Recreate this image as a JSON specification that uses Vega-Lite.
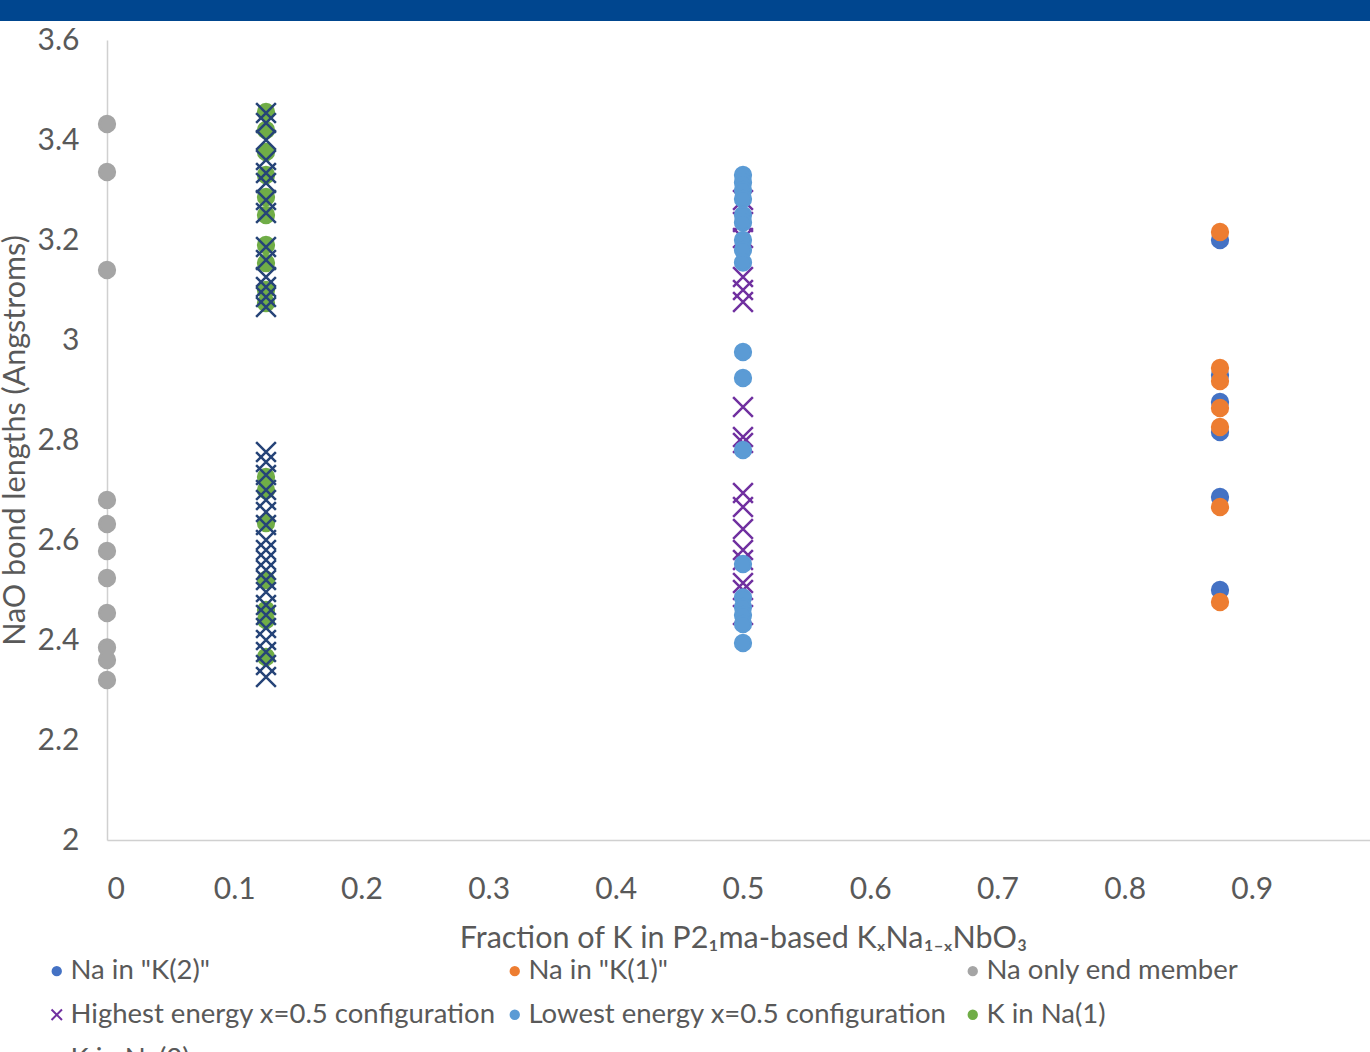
{
  "$schema": "https://vega.github.io/schema/vega-lite/v6.json",
  "width": 1272,
  "height": 800,
  "autosize": {"type": "none"},
  "padding": {"left": 107, "top": 40, "right": 0, "bottom": 212},
  "background": "white",
  "config": {
    "view": {"stroke": null},
    "font": "Lato",
    "axis": {"labelFont": "Lato", "titleFont": "Lato", "labelColor": "#595959", "titleColor": "#595959", "titleFontWeight": "normal", "grid": false, "ticks": false, "domainColor": "#D0D0D0", "domainWidth": 1.5}
  },
  "datasets": {
    "pts": [
      {"series": "Na in \"K(2)\"", "x": 0.875, "y": 3.2},
      {"series": "Na in \"K(2)\"", "x": 0.875, "y": 2.93},
      {"series": "Na in \"K(2)\"", "x": 0.875, "y": 2.876},
      {"series": "Na in \"K(2)\"", "x": 0.875, "y": 2.816},
      {"series": "Na in \"K(2)\"", "x": 0.875, "y": 2.686},
      {"series": "Na in \"K(2)\"", "x": 0.875, "y": 2.5},
      {"series": "Na in \"K(1)\"", "x": 0.875, "y": 3.216},
      {"series": "Na in \"K(1)\"", "x": 0.875, "y": 2.944},
      {"series": "Na in \"K(1)\"", "x": 0.875, "y": 2.918},
      {"series": "Na in \"K(1)\"", "x": 0.875, "y": 2.864},
      {"series": "Na in \"K(1)\"", "x": 0.875, "y": 2.826},
      {"series": "Na in \"K(1)\"", "x": 0.875, "y": 2.666},
      {"series": "Na in \"K(1)\"", "x": 0.875, "y": 2.476},
      {"series": "Na only end member", "x": 0, "y": 3.432},
      {"series": "Na only end member", "x": 0, "y": 3.336},
      {"series": "Na only end member", "x": 0, "y": 3.14},
      {"series": "Na only end member", "x": 0, "y": 2.68},
      {"series": "Na only end member", "x": 0, "y": 2.632},
      {"series": "Na only end member", "x": 0, "y": 2.578},
      {"series": "Na only end member", "x": 0, "y": 2.524},
      {"series": "Na only end member", "x": 0, "y": 2.454},
      {"series": "Na only end member", "x": 0, "y": 2.385},
      {"series": "Na only end member", "x": 0, "y": 2.36},
      {"series": "Na only end member", "x": 0, "y": 2.32},
      {"series": "Highest energy x=0.5 configuration", "x": 0.5, "y": 3.28},
      {"series": "Highest energy x=0.5 configuration", "x": 0.5, "y": 3.236},
      {"series": "Highest energy x=0.5 configuration", "x": 0.5, "y": 3.204},
      {"series": "Highest energy x=0.5 configuration", "x": 0.5, "y": 3.126},
      {"series": "Highest energy x=0.5 configuration", "x": 0.5, "y": 3.1},
      {"series": "Highest energy x=0.5 configuration", "x": 0.5, "y": 3.076},
      {"series": "Highest energy x=0.5 configuration", "x": 0.5, "y": 2.866},
      {"series": "Highest energy x=0.5 configuration", "x": 0.5, "y": 2.806},
      {"series": "Highest energy x=0.5 configuration", "x": 0.5, "y": 2.794},
      {"series": "Highest energy x=0.5 configuration", "x": 0.5, "y": 2.694},
      {"series": "Highest energy x=0.5 configuration", "x": 0.5, "y": 2.666},
      {"series": "Highest energy x=0.5 configuration", "x": 0.5, "y": 2.622},
      {"series": "Highest energy x=0.5 configuration", "x": 0.5, "y": 2.58},
      {"series": "Highest energy x=0.5 configuration", "x": 0.5, "y": 2.56},
      {"series": "Highest energy x=0.5 configuration", "x": 0.5, "y": 2.514},
      {"series": "Highest energy x=0.5 configuration", "x": 0.5, "y": 2.5},
      {"series": "Highest energy x=0.5 configuration", "x": 0.5, "y": 2.45},
      {"series": "Lowest energy x=0.5 configuration", "x": 0.5, "y": 3.33},
      {"series": "Lowest energy x=0.5 configuration", "x": 0.5, "y": 3.315},
      {"series": "Lowest energy x=0.5 configuration", "x": 0.5, "y": 3.3},
      {"series": "Lowest energy x=0.5 configuration", "x": 0.5, "y": 3.282},
      {"series": "Lowest energy x=0.5 configuration", "x": 0.5, "y": 3.25},
      {"series": "Lowest energy x=0.5 configuration", "x": 0.5, "y": 3.235},
      {"series": "Lowest energy x=0.5 configuration", "x": 0.5, "y": 3.2},
      {"series": "Lowest energy x=0.5 configuration", "x": 0.5, "y": 3.18},
      {"series": "Lowest energy x=0.5 configuration", "x": 0.5, "y": 3.155},
      {"series": "Lowest energy x=0.5 configuration", "x": 0.5, "y": 2.976},
      {"series": "Lowest energy x=0.5 configuration", "x": 0.5, "y": 2.924},
      {"series": "Lowest energy x=0.5 configuration", "x": 0.5, "y": 2.78},
      {"series": "Lowest energy x=0.5 configuration", "x": 0.5, "y": 2.552},
      {"series": "Lowest energy x=0.5 configuration", "x": 0.5, "y": 2.485},
      {"series": "Lowest energy x=0.5 configuration", "x": 0.5, "y": 2.466},
      {"series": "Lowest energy x=0.5 configuration", "x": 0.5, "y": 2.45},
      {"series": "Lowest energy x=0.5 configuration", "x": 0.5, "y": 2.432},
      {"series": "Lowest energy x=0.5 configuration", "x": 0.5, "y": 2.394},
      {"series": "K in Na(1)", "x": 0.125, "y": 3.456},
      {"series": "K in Na(1)", "x": 0.125, "y": 3.42},
      {"series": "K in Na(1)", "x": 0.125, "y": 3.376},
      {"series": "K in Na(1)", "x": 0.125, "y": 3.33},
      {"series": "K in Na(1)", "x": 0.125, "y": 3.286},
      {"series": "K in Na(1)", "x": 0.125, "y": 3.25},
      {"series": "K in Na(1)", "x": 0.125, "y": 3.19},
      {"series": "K in Na(1)", "x": 0.125, "y": 3.154},
      {"series": "K in Na(1)", "x": 0.125, "y": 3.1},
      {"series": "K in Na(1)", "x": 0.125, "y": 3.074},
      {"series": "K in Na(1)", "x": 0.125, "y": 2.726},
      {"series": "K in Na(1)", "x": 0.125, "y": 2.7},
      {"series": "K in Na(1)", "x": 0.125, "y": 2.634},
      {"series": "K in Na(1)", "x": 0.125, "y": 2.52},
      {"series": "K in Na(1)", "x": 0.125, "y": 2.46},
      {"series": "K in Na(1)", "x": 0.125, "y": 2.44},
      {"series": "K in Na(1)", "x": 0.125, "y": 2.366},
      {"series": "K in Na(2)", "x": 0.125, "y": 3.454},
      {"series": "K in Na(2)", "x": 0.125, "y": 3.434},
      {"series": "K in Na(2)", "x": 0.125, "y": 3.4},
      {"series": "K in Na(2)", "x": 0.125, "y": 3.36},
      {"series": "K in Na(2)", "x": 0.125, "y": 3.334},
      {"series": "K in Na(2)", "x": 0.125, "y": 3.314},
      {"series": "K in Na(2)", "x": 0.125, "y": 3.28},
      {"series": "K in Na(2)", "x": 0.125, "y": 3.254},
      {"series": "K in Na(2)", "x": 0.125, "y": 3.186},
      {"series": "K in Na(2)", "x": 0.125, "y": 3.16},
      {"series": "K in Na(2)", "x": 0.125, "y": 3.126},
      {"series": "K in Na(2)", "x": 0.125, "y": 3.106},
      {"series": "K in Na(2)", "x": 0.125, "y": 3.086},
      {"series": "K in Na(2)", "x": 0.125, "y": 3.066},
      {"series": "K in Na(2)", "x": 0.125, "y": 2.776},
      {"series": "K in Na(2)", "x": 0.125, "y": 2.756},
      {"series": "K in Na(2)", "x": 0.125, "y": 2.73},
      {"series": "K in Na(2)", "x": 0.125, "y": 2.7},
      {"series": "K in Na(2)", "x": 0.125, "y": 2.68},
      {"series": "K in Na(2)", "x": 0.125, "y": 2.656},
      {"series": "K in Na(2)", "x": 0.125, "y": 2.63},
      {"series": "K in Na(2)", "x": 0.125, "y": 2.6},
      {"series": "K in Na(2)", "x": 0.125, "y": 2.58},
      {"series": "K in Na(2)", "x": 0.125, "y": 2.56},
      {"series": "K in Na(2)", "x": 0.125, "y": 2.54},
      {"series": "K in Na(2)", "x": 0.125, "y": 2.52},
      {"series": "K in Na(2)", "x": 0.125, "y": 2.496},
      {"series": "K in Na(2)", "x": 0.125, "y": 2.47},
      {"series": "K in Na(2)", "x": 0.125, "y": 2.45},
      {"series": "K in Na(2)", "x": 0.125, "y": 2.424},
      {"series": "K in Na(2)", "x": 0.125, "y": 2.4},
      {"series": "K in Na(2)", "x": 0.125, "y": 2.376},
      {"series": "K in Na(2)", "x": 0.125, "y": 2.35},
      {"series": "K in Na(2)", "x": 0.125, "y": 2.326}
    ]
  },
  "layer": [
    {
      "data": {"values": [{"band": "header"}]},
      "mark": {"type": "rect", "color": "#00468F", "clip": false},
      "encoding": {
        "x": {"datum": -0.0842, "type": "quantitative"},
        "x2": {"datum": 1.0},
        "y": {"datum": 3.68, "type": "quantitative"},
        "y2": {"datum": 3.638}
      }
    },
    {
      "data": {"name": "pts"},
      "mark": {"type": "point", "filled": true, "size": 250, "strokeWidth": 2.5, "opacity": 1},
      "encoding": {
        "x": {
          "field": "x", "type": "quantitative",
          "scale": {"domain": [0, 1], "nice": false, "zero": false},
          "axis": {
            "title": "Fraction of K in P2₁ma-based KₓNa₁₋ₓNbO₃",
            "values": [0, 0.1, 0.2, 0.3, 0.4, 0.5, 0.6, 0.7, 0.8, 0.9],
            "format": "~g", "labelFontSize": 30, "labelPadding": 34,
            "titleFontSize": 30.5, "titlePadding": 19
          }
        },
        "y": {
          "field": "y", "type": "quantitative",
          "scale": {"domain": [2, 3.6], "nice": false, "zero": false},
          "axis": {
            "title": "NaO bond lengths (Angstroms)",
            "values": [2, 2.2, 2.4, 2.6, 2.8, 3, 3.2, 3.4, 3.6],
            "format": "~g", "labelFontSize": 30, "labelPadding": 28,
            "titleFontSize": 30.5, "titlePadding": 7
          }
        },
        "color": {
          "field": "series", "type": "nominal",
          "scale": {
            "domain": ["Na in \"K(2)\"", "Na in \"K(1)\"", "Na only end member", "Highest energy x=0.5 configuration", "Lowest energy x=0.5 configuration", "K in Na(1)", "K in Na(2)"],
            "range": ["#4472C4", "#ED7D31", "#A5A5A5", "#7030A0", "#5B9BD5", "#70AD47", "#264478"]
          },
          "legend": {
            "orient": "none", "legendX": -64, "legendY": 917, "title": null,
            "direction": "horizontal",
            "columns": 3, "gridAlign": "all", "columnPadding": 5, "rowPadding": 15,
            "labelFont": "Lato", "labelFontSize": 27.5, "labelColor": "#595959", "labelOffset": 0,
            "symbolSize": 70, "symbolStrokeWidth": 2, "padding": 0, "labelLimit": 600
          }
        },
        "stroke": {
          "field": "series", "type": "nominal",
          "scale": {
            "domain": ["Na in \"K(2)\"", "Na in \"K(1)\"", "Na only end member", "Highest energy x=0.5 configuration", "Lowest energy x=0.5 configuration", "K in Na(1)", "K in Na(2)"],
            "range": ["#4472C4", "#ED7D31", "#A5A5A5", "#7030A0", "#5B9BD5", "#70AD47", "#264478"]
          }
        },
        "shape": {
          "field": "series", "type": "nominal",
          "scale": {
            "domain": ["Na in \"K(2)\"", "Na in \"K(1)\"", "Na only end member", "Highest energy x=0.5 configuration", "Lowest energy x=0.5 configuration", "K in Na(1)", "K in Na(2)"],
            "range": ["circle", "circle", "circle", "M-1.25,-1.25L1.25,1.25M-1.25,1.25L1.25,-1.25", "circle", "circle", "M-1.25,-1.25L1.25,1.25M-1.25,1.25L1.25,-1.25"]
          }
        }
      }
    }
  ]
}
